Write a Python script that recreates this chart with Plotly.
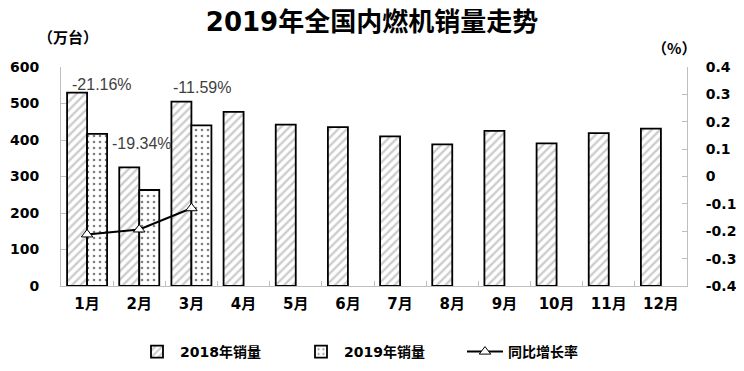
import plotly.graph_objects as go

months = ["1月", "2月", "3月", "4月", "5月", "6月", "7月", "8月", "9月", "10月", "11月", "12月"]
sales_2018 = [530, 325, 505, 477, 442, 435, 410, 388, 425, 391, 419, 431]
sales_2019 = [417, 263, 440, None, None, None, None, None, None, None, None, None]
growth = [-0.2116, -0.1934, -0.1159]
growth_labels = ["-21.16%", "-19.34%", "-11.59%"]
left_ticks = [0, 100, 200, 300, 400, 500, 600]
right_ticks = [-0.4, -0.3, -0.2, -0.1, 0, 0.1, 0.2, 0.3, 0.4]
right_tick_text = ["-0.4", "-0.3", "-0.2", "-0.1", "0", "0.1", "0.2", "0.3", "0.4"]

FONT = "DejaVu Sans, Noto Sans CJK SC"
CJK = "Noto Sans CJK SC, DejaVu Sans"
AXIS_GRAY = "#BFBFBF"

# page body has an 8px margin; size the figure to fit the 744x371 window
OFF = 8
W, H = 744 - 2 * OFF, 371 - 2 * OFF
L, R, T, B = 61 - OFF, 57 - OFF, 67 - OFF, 85 - OFF
pw, ph = W - L - R, H - T - B


def px_x(x):  # window px -> paper x
    return (x - OFF - L) / pw


def px_y(y):  # window px -> paper y
    return (H - B - (y - OFF)) / ph


fig = go.Figure()
fig.add_trace(go.Bar(
    x=months, y=sales_2018, name="2018年销量",
    marker=dict(color="white", line=dict(color="black", width=1.8),
                pattern=dict(shape="/", fgcolor="#999999", bgcolor="white", size=6, solidity=0.4)),
))
fig.add_trace(go.Bar(
    x=months, y=sales_2019, name="2019年销量",
    marker=dict(color="white", line=dict(color="black", width=1.8),
                pattern=dict(shape=".", fgcolor="black", bgcolor="white", size=6, solidity=0.15)),
))
fig.add_trace(go.Scatter(
    x=months[:len(growth)], y=growth, name="同比增长率", yaxis="y2",
    mode="lines+markers",
    line=dict(color="black", width=2),
    marker=dict(symbol="triangle-up", size=10, color="white", line=dict(color="black", width=1)),
))

label_shifts = [(15, 150), (3, 86), (11, 121)]
for i, (g, t) in enumerate(zip(growth, growth_labels)):
    dx, dy = label_shifts[i]
    fig.add_annotation(x=months[i], y=g, xref="x", yref="y2", text=t, showarrow=False,
                       xshift=dx, yshift=dy,
                       font=dict(family="Liberation Sans, Arial", size=16, color="#404040"))

unit_font = dict(family=CJK, size=15, color="black", weight="bold")
fig.add_annotation(x=px_x(68), y=px_y(37), xref="paper", yref="paper",
                   text="（万台）", showarrow=False, xanchor="center", yanchor="middle", font=unit_font)
fig.add_annotation(x=px_x(674), y=px_y(47), xref="paper", yref="paper",
                   text="（%）", showarrow=False, xanchor="center", yanchor="middle", font=unit_font)

fig.update_layout(
    width=W, height=H,
    margin=dict(l=L, r=R, t=T, b=B, autoexpand=False),
    paper_bgcolor="white", plot_bgcolor="white",
    barmode="group", bargap=0.233, bargroupgap=0,
    title=dict(text="2019年全国内燃机销量走势", x=0.5, xanchor="center",
               y=1 - (22 - OFF) / H, yanchor="middle", automargin=False,
               font=dict(family=FONT, size=26, color="black", weight="bold")),
    font=dict(family=FONT, color="black"),
    showlegend=True,
    legend=dict(orientation="h", x=px_x(380), xanchor="center", y=px_y(352), yanchor="middle",
                font=dict(family=FONT, size=14, color="black", weight="bold"),
                itemwidth=36, entrywidth=113, entrywidthmode="pixels", traceorder="normal"),
    xaxis=dict(type="category", range=[-0.5, len(months) - 0.5], autorange=False,
               showgrid=False, showline=True, linecolor=AXIS_GRAY, linewidth=1,
               ticks="inside", tickson="boundaries", ticklen=5, tickcolor=AXIS_GRAY,
               automargin=False, ticklabelstandoff=4,
               tickfont=dict(family=FONT, size=15, color="black", weight="bold")),
    yaxis=dict(range=[0, 600], tickvals=left_ticks, showgrid=False, zeroline=False,
               showline=True, linecolor=AXIS_GRAY, linewidth=1, automargin=False,
               ticks="inside", ticklen=5, tickcolor=AXIS_GRAY, ticklabelstandoff=18,
               tickfont=dict(family=FONT, size=14, color="black", weight="bold")),
    yaxis2=dict(range=[-0.4, 0.4], overlaying="y", side="right",
                tickvals=right_ticks, ticktext=right_tick_text, automargin=False,
                showgrid=False, zeroline=False, showline=True, linecolor=AXIS_GRAY, linewidth=1,
                ticks="inside", ticklen=5, tickcolor=AXIS_GRAY, ticklabelstandoff=15,
                tickfont=dict(family=FONT, size=14, color="black", weight="bold")),
)

fig.write_html("out.html")
